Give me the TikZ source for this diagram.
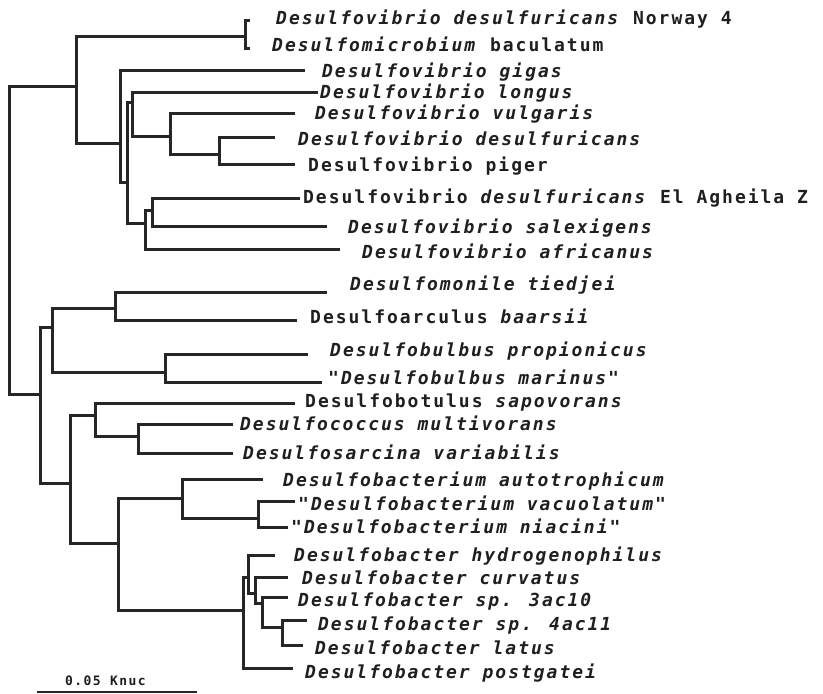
\documentclass[tikz,border=0pt]{standalone}
\usepackage{fontspec}
\newfontfamily\labf[LetterSpace=11]{DejaVu Sans Mono}
\begin{document}
\begin{tikzpicture}[x=1pt,y=-1pt,
  br/.style={line width=3pt, draw=black!85},
  lab/.style={anchor=base west, inner sep=0pt, text=black!88, font=\labf\bfseries\fontsize{18}{21}\selectfont}]
\useasboundingbox (0,0) rectangle (823,694);
% ---------- internal nodes (x, incoming y) ----------
\coordinate (root) at (9,240);
\coordinate (n1) at (76,86);
\coordinate (pr) at (245,36);
\coordinate (nA) at (120,143);
\coordinate (nB) at (127,182);
\coordinate (nE) at (132,102);
\coordinate (nF) at (170,136);
\coordinate (nG) at (219,154);
\coordinate (nC) at (145,223);
\coordinate (nD) at (152,210);
\coordinate (nH) at (40,394);
\coordinate (nI) at (52,327);
\coordinate (nK) at (115,308);
\coordinate (nL) at (165,372);
\coordinate (nJ) at (70,483);
\coordinate (nM) at (95,415);
\coordinate (nN) at (138,436);
\coordinate (nO) at (118,543);
\coordinate (nP) at (182,498);
\coordinate (nR) at (258,518);
\coordinate (nQ) at (243,610);
\coordinate (nS) at (248,577);
\coordinate (nT) at (255,593);
\coordinate (nU) at (262,603);
\coordinate (nV) at (282,627);
% ---------- leaf ends ----------
\coordinate (l1) at (250,20);
\coordinate (l2) at (250,48);
\coordinate (l3) at (305,70);
\coordinate (l4) at (318,92);
\coordinate (l5) at (295,113);
\coordinate (l6) at (275,137);
\coordinate (l7) at (295,164);
\coordinate (l8) at (300,198);
\coordinate (l9) at (327,226);
\coordinate (l10) at (340,249);
\coordinate (l11) at (327,292);
\coordinate (l12) at (297,320);
\coordinate (l13) at (308,354);
\coordinate (l14) at (322,382);
\coordinate (l15) at (295,403);
\coordinate (l16) at (233,424);
\coordinate (l17) at (233,453);
\coordinate (l18) at (263,479);
\coordinate (l19) at (295,501);
\coordinate (l20) at (288,527);
\coordinate (l21) at (275,555);
\coordinate (l22) at (288,577);
\coordinate (l23) at (288,597);
\coordinate (l24) at (307,620);
\coordinate (l25) at (303,645);
\coordinate (l26) at (293,668);
% ---------- branches ----------
\draw[br] (root) |- (n1);
\draw[br] (root) |- (nH);
\draw[br] (n1) |- (pr);
\draw[br] (n1) |- (nA);
\draw[br] (pr) |- (l1);
\draw[br] (pr) |- (l2);
\draw[br] (nA) |- (l3);
\draw[br] (nA) |- (nB);
\draw[br] (nB) |- (nE);
\draw[br] (nB) |- (nC);
\draw[br] (nE) |- (l4);
\draw[br] (nE) |- (nF);
\draw[br] (nF) |- (l5);
\draw[br] (nF) |- (nG);
\draw[br] (nG) |- (l6);
\draw[br] (nG) |- (l7);
\draw[br] (nC) |- (nD);
\draw[br] (nC) |- (l10);
\draw[br] (nD) |- (l8);
\draw[br] (nD) |- (l9);
\draw[br] (nH) |- (nI);
\draw[br] (nH) |- (nJ);
\draw[br] (nI) |- (nK);
\draw[br] (nI) |- (nL);
\draw[br] (nK) |- (l11);
\draw[br] (nK) |- (l12);
\draw[br] (nL) |- (l13);
\draw[br] (nL) |- (l14);
\draw[br] (nJ) |- (nM);
\draw[br] (nJ) |- (nO);
\draw[br] (nM) |- (l15);
\draw[br] (nM) |- (nN);
\draw[br] (nN) |- (l16);
\draw[br] (nN) |- (l17);
\draw[br] (nO) |- (nP);
\draw[br] (nO) |- (nQ);
\draw[br] (nP) |- (l18);
\draw[br] (nP) |- (nR);
\draw[br] (nR) |- (l19);
\draw[br] (nR) |- (l20);
\draw[br] (nQ) |- (nS);
\draw[br] (nQ) |- (l26);
\draw[br] (nS) |- (l21);
\draw[br] (nS) |- (nT);
\draw[br] (nT) |- (l22);
\draw[br] (nT) |- (nU);
\draw[br] (nU) |- (l23);
\draw[br] (nU) |- (nV);
\draw[br] (nV) |- (l24);
\draw[br] (nV) |- (l25);
% ---------- labels ----------
\node[lab] (t1) at (276,24) {\textit{Desulfovibrio desulfuricans} Norway 4};
\node[lab] (t2) at (272,51) {\textit{Desulfomicrobium} baculatum};
\node[lab] (t3) at (322,77) {\textit{Desulfovibrio gigas}};
\node[lab] (t4) at (320,98) {\textit{Desulfovibrio longus}};
\node[lab] (t5) at (315,119) {\textit{Desulfovibrio vulgaris}};
\node[lab] (t6) at (298,145) {\textit{Desulfovibrio desulfuricans}};
\node[lab] (t7) at (308,171) {Desulfovibrio piger};
\node[lab] (t8) at (303,203) {Desulfovibrio \textit{desulfuricans} El Agheila Z};
\node[lab] (t9) at (348,233) {\textit{Desulfovibrio salexigens}};
\node[lab] (t10) at (362,258) {\textit{Desulfovibrio africanus}};
\node[lab] (t11) at (350,290) {\textit{Desulfomonile tiedjei}};
\node[lab] (t12) at (310,323) {Desulfoarculus \textit{baarsii}};
\node[lab] (t13) at (330,356) {\textit{Desulfobulbus propionicus}};
\node[lab] (t14) at (328,384) {\textit{"Desulfobulbus marinus"}};
\node[lab] (t15) at (305,407) {Desulfobotulus \textit{sapovorans}};
\node[lab] (t16) at (240,430) {\textit{Desulfococcus multivorans}};
\node[lab] (t17) at (243,459) {\textit{Desulfosarcina variabilis}};
\node[lab] (t18) at (283,486) {\textit{Desulfobacterium autotrophicum}};
\node[lab] (t19) at (298,510) {\textit{"Desulfobacterium vacuolatum"}};
\node[lab] (t20) at (291,533) {\textit{"Desulfobacterium niacini"}};
\node[lab] (t21) at (294,561) {\textit{Desulfobacter hydrogenophilus}};
\node[lab] (t22) at (302,584) {\textit{Desulfobacter curvatus}};
\node[lab] (t23) at (298,606) {\textit{Desulfobacter sp. 3ac10}};
\node[lab] (t24) at (318,630) {\textit{Desulfobacter sp. 4ac11}};
\node[lab] (t25) at (315,654) {\textit{Desulfobacter latus}};
\node[lab] (t26) at (305,678) {\textit{Desulfobacter postgatei}};
% ---------- scale bar ----------
\node[anchor=base west, inner sep=0pt, text=black!88, font=\labf\bfseries\fontsize{13}{15}\selectfont] (sc) at (65,685) {0.05 Knuc};
\coordinate (sa) at (37,692);
\coordinate (sb) at (197,692);
\draw[line width=2.4pt, draw=black!85] (sa) -- (sb);
\end{tikzpicture}
\end{document}
